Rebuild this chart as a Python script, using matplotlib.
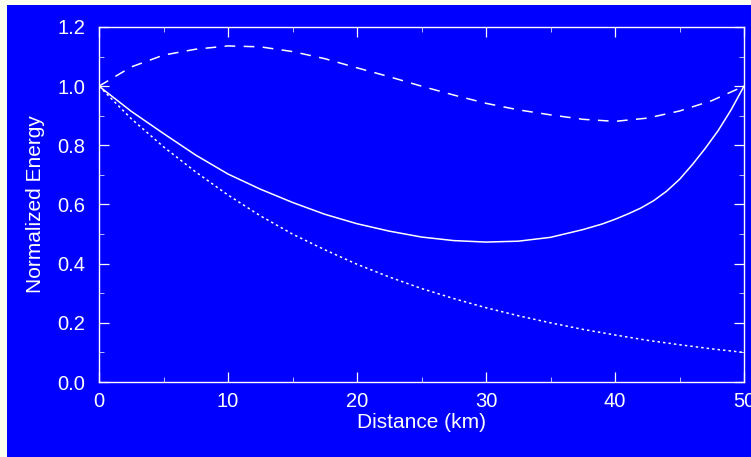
import matplotlib
matplotlib.use("Agg")
from matplotlib import pyplot as plt
from matplotlib.patches import Rectangle
from matplotlib.ticker import MultipleLocator, FormatStrFormatter

# distance along the line (km)
distance = [0, 2.5, 5, 7.5, 10, 12.5, 15, 17.5, 20, 22.5, 25,
            27.5, 30, 32.5, 35, 37.5, 40, 42.5, 45, 47.5, 50]
# the solid curve bends sharply near the far end, so it is sampled finer there
distance_solid = [0, 2.5, 5, 7.5, 10, 12.5, 15, 17.5, 20, 22.5, 25, 27.5, 30,
                  32.5, 35, 37.5, 39, 40, 41, 42, 43, 44, 45, 46, 47, 48, 49, 50]

# normalized energy for the three cases
energy_solid = [1.0, 0.915, 0.84, 0.767, 0.703, 0.652, 0.607, 0.567, 0.535, 0.51, 0.49,
                0.478, 0.473, 0.476, 0.489, 0.515, 0.534, 0.55, 0.568, 0.588, 0.613,
                0.645, 0.685, 0.735, 0.79, 0.85, 0.92, 1.0]
energy_dashed = [1.0, 1.065, 1.105, 1.125, 1.136, 1.133, 1.117, 1.093, 1.062, 1.032, 1.0,
                 0.97, 0.942, 0.92, 0.903, 0.888, 0.881, 0.892, 0.916, 0.951, 1.0]
energy_dotted = [1.0, 0.89, 0.795, 0.71, 0.632, 0.562, 0.50, 0.447, 0.398, 0.355, 0.316,
                 0.282, 0.251, 0.224, 0.20, 0.178, 0.159, 0.141, 0.126, 0.112, 0.10]

plt.rcParams['font.family'] = ['Liberation Sans', 'DejaVu Sans']

fig = plt.figure(figsize=(7.51, 4.57), dpi=100, facecolor='#fffff0')
# blue panel behind everything, leaving a thin pale strip at left and top
fig.add_artist(Rectangle((7 / 751, 0), 1, 452 / 457, transform=fig.transFigure,
                         facecolor='#0000ff', edgecolor='none', zorder=-10))

ax = fig.add_axes([99 / 751, 75 / 457, 645 / 751, 355 / 457])
ax.set_zorder(1)
ax.set_facecolor('#0000ff')

ax.plot(distance_solid, energy_solid, color='white', lw=1.1)
ax.plot(distance, energy_dashed, color='white', lw=1.1, dashes=(7, 5.5))
ax.plot(distance, energy_dotted, color='white', lw=1.1, dashes=(1.6, 2))

ax.set_xlim(0, 50)
ax.set_ylim(0, 1.2)
ax.xaxis.set_major_locator(MultipleLocator(10))
ax.xaxis.set_minor_locator(MultipleLocator(5))
ax.yaxis.set_major_locator(MultipleLocator(0.2))
ax.yaxis.set_minor_locator(MultipleLocator(0.1))
ax.yaxis.set_major_formatter(FormatStrFormatter('%.1f'))

for s in ax.spines.values():
    s.set_color('white')
    s.set_linewidth(1.0)

ax.tick_params(which='both', direction='in', top=True, right=True, colors='white')
ax.tick_params(which='major', length=7, width=0.9, labelsize=14.5)
ax.tick_params(which='minor', length=3.5, width=0.7, color='#b8b8ff')
ax.tick_params(axis='x', which='major', pad=7)
ax.tick_params(axis='y', which='major', pad=10)

ax.set_xlabel('Distance (km)', color='white', fontsize=15, labelpad=2)
ax.set_ylabel('Normalized Energy', color='white', fontsize=15, labelpad=9)

fig.savefig('out.png', dpi=100, facecolor=fig.get_facecolor())
